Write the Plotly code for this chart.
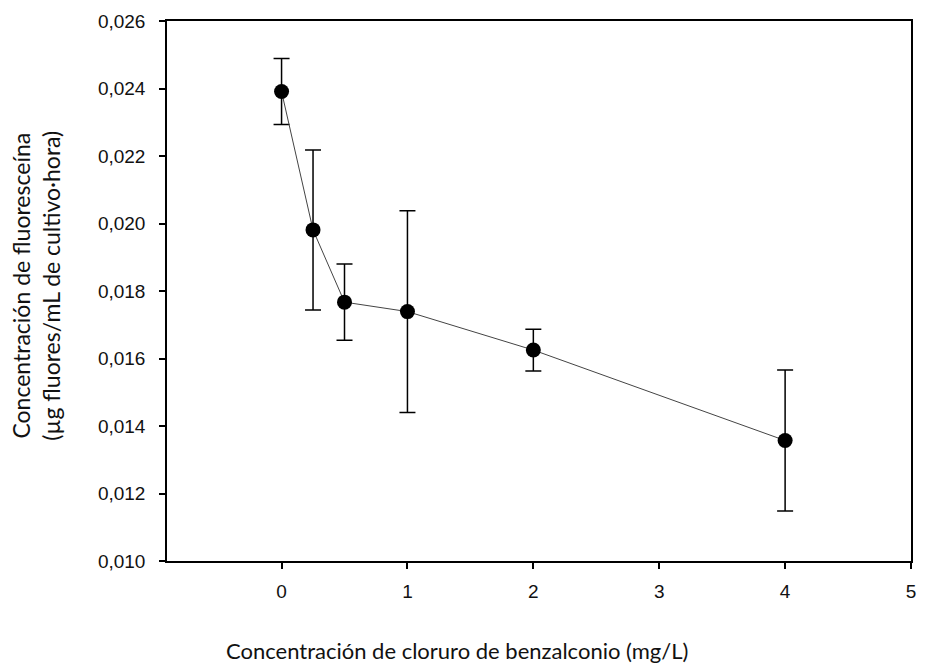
import plotly.graph_objects as go

conc = [0, 0.25, 0.5, 1, 2, 4]
fluor = [0.02391, 0.01981, 0.01767, 0.01739, 0.01625, 0.01357]
err = [0.00098, 0.00237, 0.00113, 0.00299, 0.00062, 0.00209]

x_ticks = [0, 1, 2, 3, 4, 5]
y_ticks = [0.010, 0.012, 0.014, 0.016, 0.018, 0.020, 0.022, 0.024, 0.026]

x_title = "Concentración de cloruro de benzalconio (mg/L)"
y_title = "Concentración de fluoresceína<br>(µg fluores/mL de cultivo·hora)"

fig = go.Figure()
fig.add_trace(go.Scatter(
    x=conc, y=fluor, mode="lines+markers",
    line=dict(color="#444444", width=1),
    marker=dict(color="black", size=15),
    error_y=dict(type="data", array=err, visible=True, color="black",
                 thickness=1.5, width=8),
    showlegend=False,
))

axis_common = dict(showline=True, linecolor="black", linewidth=1.5, mirror=True,
                   ticks="outside", ticklen=6, tickwidth=1.5, tickcolor="black",
                   showgrid=False, zeroline=False,
                   tickfont=dict(family="Liberation Sans", size=19, color="#111"))

fig.update_xaxes(range=[-0.91, 5], tickvals=x_ticks, ticklabelstandoff=6, **axis_common)
fig.update_yaxes(range=[0.010, 0.026], tickvals=y_ticks, tickformat=".3f",
                 ticklabelstandoff=10, **axis_common)

fig.add_annotation(text=x_title, xref="paper", yref="paper", x=0.39, y=-0.165,
                   xanchor="center", yanchor="middle", showarrow=False,
                   font=dict(family="Lato", size=22, color="#111"))
fig.add_annotation(text=y_title, xref="paper", yref="paper", x=-0.176, y=0.51,
                   xanchor="center", yanchor="middle", showarrow=False, textangle=-90,
                   font=dict(family="Lato", size=23, color="#111"))

fig.update_layout(
    width=925, height=667,
    margin=dict(l=167, r=9, t=21, b=106),
    plot_bgcolor="white", paper_bgcolor="white",
    separators=",.",
)

fig.write_html("out.html")
